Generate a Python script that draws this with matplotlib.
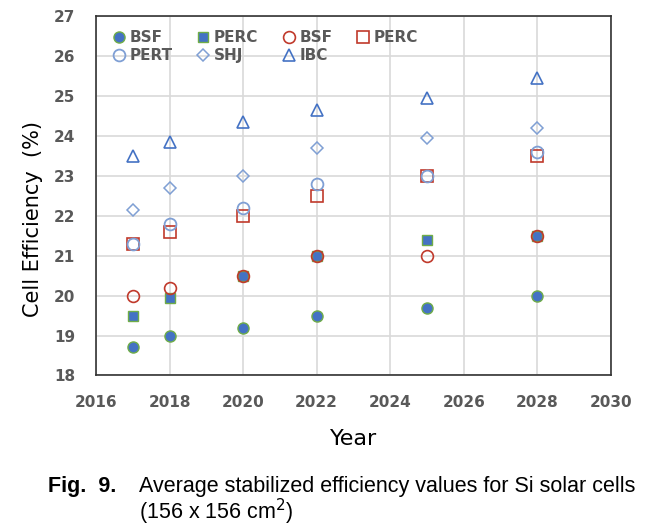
import matplotlib.pyplot as plt
import numpy as np

years = [2017, 2018, 2020, 2022, 2025, 2028]

bsf_filled = [18.7, 19.0, 19.2, 19.5, 19.7, 20.0]
perc_filled = [19.5, 19.95, 20.5, 21.0, 21.4, 21.5]
bsf_open = [20.0, 20.2, 20.5, 21.0, 21.0, 21.5]
perc_open = [21.3, 21.6, 22.0, 22.5, 23.0, 23.5]
pert = [21.3, 21.8, 22.2, 22.8, 23.0, 23.6]
shj = [22.15, 22.7, 23.0, 23.7, 23.95, 24.2]
ibc = [23.5, 23.85, 24.35, 24.65, 24.95, 25.45]

x_ticks = np.arange(2016, 2031, 2)
y_ticks = np.arange(18, 28, 1)

blue = '#4472C4'
green = '#70AD47'
red = '#C0392B'
light_blue = '#7F9FD4'

fig = plt.figure(figsize=(6.57, 5.31), dpi=100)
ax = fig.add_axes([0.146, 0.293, 0.784, 0.676])

h1, = ax.plot(years, bsf_filled, 'o', ms=8, mfc=blue, mec=green, mew=1, label='BSF')
h2, = ax.plot(years, perc_filled, 's', ms=7.5, mfc=blue, mec=green, mew=1, label='PERC')
h3, = ax.plot(years, bsf_open, 'o', ms=8.5, mfc='none', mec=red, mew=1.2, label='BSF')
h4, = ax.plot(years, perc_open, 's', ms=9, mfc='none', mec=red, mew=1.2, label='PERC')
h5, = ax.plot(years, pert, 'o', ms=8.5, mfc='none', mec=light_blue, mew=1.3, label='PERT')
h6, = ax.plot(years, shj, 'D', ms=6.5, mfc='none', mec=light_blue, mew=1.1, label='SHJ')
h7, = ax.plot(years, ibc, '^', ms=9, mfc='none', mec=blue, mew=1.2, label='IBC')

ax.set_xlim(2016, 2030)
ax.set_ylim(18, 27)
ax.set_xticks(x_ticks)
ax.set_yticks(y_ticks)
ax.grid(True, color='#D9D9D9', lw=1.2)
ax.set_axisbelow(True)
for s in ax.spines.values():
    s.set_color('#333333')
    s.set_linewidth(1.2)
ax.tick_params(length=0, labelsize=11, labelcolor='#595959')
ax.tick_params(axis='x', pad=14)
ax.tick_params(axis='y', pad=15)
for lab in ax.get_xticklabels() + ax.get_yticklabels():
    lab.set_fontweight('bold')

ax.set_xlabel('Year', fontsize=16, labelpad=14)
ax.set_ylabel('Cell Efficiency  (%)', fontsize=15)
ax.yaxis.set_label_coords(-0.103, 0.435)

# row-wise order like the original legend
handles = [h1, h5, h2, h6, h3, h7, h4]
leg = ax.legend(handles=handles, labels=[h.get_label() for h in handles],
                ncol=4, loc='upper left', frameon=False, fontsize=11,
                handletextpad=0.1, columnspacing=1.4, labelspacing=0.2,
                borderaxespad=0.5, handlelength=1.2)
for t in leg.get_texts():
    t.set_fontweight('bold')
    t.set_color('#595959')

fig.text(0.073, 0.073, 'Fig.  9.', fontsize=15.5, fontweight='bold',
         family='Liberation Sans', va='baseline')
fig.text(0.212, 0.073, 'Average stabilized efficiency values for Si solar cells',
         fontsize=15.5, family='Liberation Sans', va='baseline')
fig.text(0.212, 0.023, r'(156 x 156 cm$^2$)', fontsize=15.5,
         family='Liberation Sans', va='baseline')

fig.savefig('out.png', dpi=100)
